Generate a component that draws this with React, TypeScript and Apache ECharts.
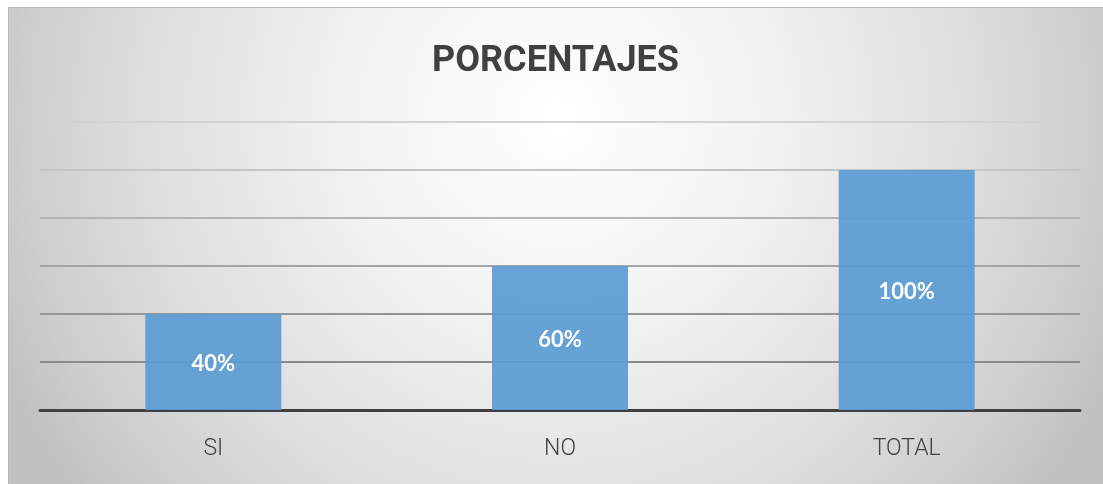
import React, { useEffect, useRef } from "react";
import * as echarts from "echarts";

const categories = ["SI", "NO", "TOTAL"];
const values = [40, 60, 100];
const titleText = "PORCENTAJES";

export default function App() {
  const ref = useRef<HTMLDivElement>(null);
  useEffect(() => {
    if (!ref.current) return;
    const chart = echarts.init(ref.current, undefined, { renderer: "svg" });
    const W = 1095;
    const H = 477;
    chart.setOption({
      animation: false,
      graphic: [
        {
          type: "rect",
          z: -10,
          silent: true,
          shape: { x: 0, y: 0, width: W, height: H },
          style: {
            fill: {
              type: "radial",
              x: 550,
              y: 110,
              r: 610,
              global: true,
              colorStops: [
                { offset: 0, color: "#ffffff" },
                { offset: 0.35, color: "#f2f2f2" },
                { offset: 0.65, color: "#e0e0e0" },
                { offset: 0.88, color: "#cecece" },
                { offset: 1, color: "#c1c1c1" },
              ],
            },
          },
        },
        {
          type: "polyline",
          z: -9,
          silent: true,
          shape: { points: [[0.5, H], [0.5, 0.5], [W, 0.5]] },
          style: { stroke: "#b8b8b8", lineWidth: 1, fill: "none" },
        },
      ],
      title: {
        text: titleText,
        left: "center",
        top: 29,
        textStyle: {
          fontFamily: "Roboto",
          fontWeight: "bold",
          fontSize: 36,
          color: "#404040",
        },
      },
      grid: { left: 32, right: 23, top: 115, bottom: 74, containLabel: false },
      xAxis: {
        type: "category",
        data: categories,
        axisLine: { show: true, lineStyle: { color: "#404040", width: 3 } },
        axisTick: { show: false },
        axisLabel: {
          margin: 26,
          fontSize: 23,
          fontWeight: 300,
          fontFamily: "Roboto",
          color: "#404040",
        },
      },
      yAxis: {
        type: "value",
        min: 0,
        max: 120,
        interval: 20,
        axisLabel: { show: false },
        axisLine: { show: false },
        axisTick: { show: false },
        splitLine: {
          show: true,
          lineStyle: {
            width: 2,
            color: ["#888888", "#8a8a8a", "#959595", "#a4a4a4", "#b4b4b4", "#c4c4c4", "#d2d2d2"],
          },
        },
      },
      series: [
        {
          type: "bar",
          data: values,
          barWidth: 136,
          itemStyle: { color: "rgba(91,155,213,0.92)" },
          label: {
            show: true,
            position: "inside",
            formatter: "{c}%",
            color: "#ffffff",
            fontFamily: "Lato",
            fontWeight: "bold",
            fontSize: 22,
          },
        },
      ],
    });
    return () => chart.dispose();
  }, []);
  return (
    <div
      ref={ref}
      style={{ position: "fixed", left: 8, top: 7, width: 1095, height: 477 }}
    />
  );
}
